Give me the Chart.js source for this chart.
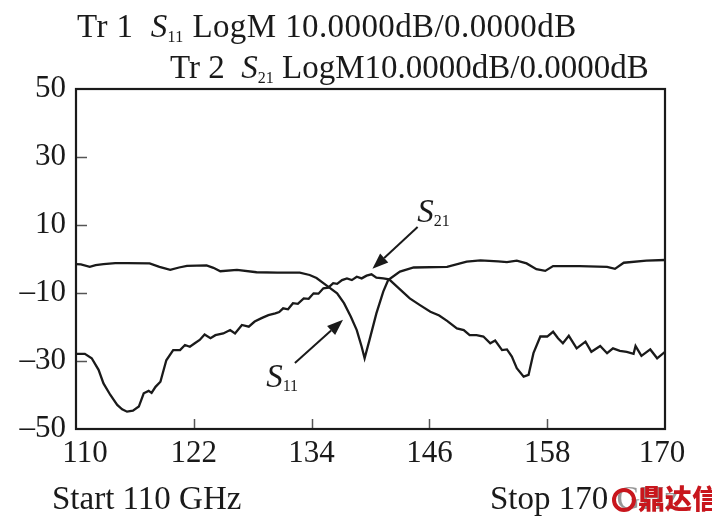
<!DOCTYPE html>
<html><head><meta charset="utf-8">
<script src="https://cdn.jsdelivr.net/npm/chart.js@4.4.1/dist/chart.umd.min.js"></script>
<style>
html,body{margin:0;padding:0;background:#fff;}
#wrap{position:relative;width:712px;height:524px;overflow:hidden;font-family:'Liberation Serif','Times New Roman',serif;color:#1a1a1a;}
canvas{position:absolute;left:0;top:0;}
.t{position:absolute;white-space:nowrap;font-size:33px;line-height:1;}
.t i{font-style:italic;}
.t sub{font-size:16px;vertical-align:baseline;position:relative;top:5px;}
#wm{position:absolute;left:612px;top:484px;white-space:nowrap;color:#c8161d;font-family:'Noto Sans CJK SC',sans-serif;font-weight:900;font-size:27px;line-height:1;background:rgba(255,255,255,0.55);}
#wm .ic{display:inline-block;width:24px;height:24px;border-radius:50%;border:4px solid #c8161d;box-sizing:border-box;vertical-align:-3px;margin-right:2px;}
</style></head>
<body><div id="wrap">
<canvas id="c" width="712" height="524"></canvas>
<div class="t" style="left:77px;top:10px;letter-spacing:0.4px;">Tr 1&nbsp;&nbsp;<i>S</i><sub>11</sub> LogM 10.0000dB/0.0000dB</div>
<div class="t" style="left:170px;top:51px;">Tr 2&nbsp;&nbsp;<i>S</i><sub>21</sub> LogM10.0000dB/0.0000dB</div>
<div class="t" style="left:52px;top:482px;">Start 110 GHz</div>
<div class="t" style="left:490px;top:482px;">Stop 170 GHz</div>
<div id="wm"><span class="ic"></span>鼎达信</div>
</div>
<script>
// ---- data ----
const xTicks = [110, 122, 134, 146, 158, 170];
const yTicks = [50, 30, 10, -10, -30, -50];

const s11Freq = [110.0,110.5,111.4,112.0,112.8,114.0,115.2,117.5,118.5,119.6,120.5,121.3,123.3,124.0,124.7,126.4,128.4,130.5,132.8,133.8,134.5,135.2,136.6,137.3,138.0,138.6,139.1,139.4,139.9,140.6,141.3,141.8,143.0,144.4,147.8,149.8,151.2,153.0,153.9,154.9,155.9,156.9,157.8,158.6,161.3,164.1,164.9,165.8,168.1,170.0];
const s11Val  = [-1.5,-1.6,-2.3,-1.8,-1.5,-1.2,-1.2,-1.3,-2.3,-3.2,-2.5,-2.0,-1.9,-2.6,-3.6,-3.2,-3.9,-4.0,-4.0,-4.7,-5.6,-7.1,-10.1,-13.0,-17.0,-20.9,-25.8,-29.2,-23.8,-16.0,-9.6,-6.2,-3.7,-2.5,-2.3,-0.8,-0.4,-0.7,-0.9,-0.5,-1.3,-3.0,-3.5,-2.1,-2.1,-2.3,-2.9,-1.1,-0.5,-0.3];

const s21Freq = [110.0,110.9,111.6,112.3,112.8,113.5,114.2,114.7,115.2,115.8,116.4,116.9,117.4,117.7,118.1,118.6,119.2,119.9,120.6,121.1,121.6,122.1,122.6,123.1,123.7,124.2,125.0,125.7,126.2,126.9,127.6,128.2,128.9,129.6,130.3,130.7,131.1,131.6,132.1,132.6,133.2,133.7,134.2,134.7,135.2,135.7,136.2,136.6,137.1,137.6,138.1,138.6,139.1,139.6,140.1,140.6,141.3,141.9,142.7,144.0,145.0,146.1,147.0,147.8,148.8,149.5,150.1,150.8,151.5,152.2,152.7,153.4,153.9,154.4,154.9,155.6,156.1,156.6,157.3,158.0,158.6,159.1,159.6,160.2,161.0,161.9,162.5,163.4,164.1,164.7,165.4,166.1,166.8,167.0,167.6,168.5,169.2,170.0];
const s21Val  = [-27.9,-27.9,-29.2,-32.6,-36.6,-40.0,-42.9,-44.2,-44.9,-44.6,-43.4,-39.5,-38.8,-39.4,-37.6,-36.1,-29.8,-26.8,-26.8,-25.3,-25.8,-24.8,-23.8,-22.2,-23.3,-22.4,-21.9,-20.9,-21.9,-19.4,-19.9,-18.4,-17.4,-16.5,-16.0,-15.6,-14.5,-14.8,-13.0,-13.2,-11.6,-11.7,-10.1,-10.2,-8.6,-8.4,-7.1,-7.3,-6.2,-5.7,-6.2,-5.2,-5.7,-4.9,-4.5,-5.5,-5.7,-6.0,-8.1,-11.6,-13.5,-15.5,-16.6,-18.2,-20.4,-20.9,-22.4,-22.4,-22.8,-24.8,-24.0,-26.8,-26.6,-28.7,-32.1,-34.6,-34.1,-27.7,-22.8,-22.8,-21.4,-23.3,-24.8,-22.6,-26.3,-24.3,-27.3,-25.6,-27.7,-26.3,-27.0,-27.3,-27.9,-25.6,-28.5,-26.6,-29.2,-27.3];

// annotation labels: [labelFreq, labelDb, tailFreq, tailDb, tipFreq, tipDb, subscript]
const annS21 = [146.5, 14.0, 144.8, 9.4, 140.2, -2.9, '21'];
const annS11 = [131.1, -34.3, 132.3, -30.6, 137.2, -17.9, '11'];

const FONT = "'Liberation Serif','Times New Roman',serif";
const INK = '#1a1a1a';

function pts(xs, ys){ return xs.map((x,i)=>({x:x, y:ys[i]})); }

const decor = {
  id:'decor',
  afterDatasetsDraw(chart){
    const ctx = chart.ctx, a = chart.chartArea, xs = chart.scales.x, ys = chart.scales.y;
    ctx.save();
    // inward ticks
    ctx.strokeStyle = '#555'; ctx.lineWidth = 1.5;
    yTicks.forEach(v=>{ if(v===50||v===-50) return; const py = Math.round(ys.getPixelForValue(v))+0.5;
      ctx.beginPath(); ctx.moveTo(a.left, py); ctx.lineTo(a.left+11, py); ctx.stroke(); });
    xTicks.forEach(v=>{ if(v===110||v===170) return; const px = Math.round(xs.getPixelForValue(v))+0.5;
      ctx.beginPath(); ctx.moveTo(px, a.bottom); ctx.lineTo(px, a.bottom-10); ctx.stroke(); });
    // frame
    ctx.strokeStyle = INK; ctx.lineWidth = 2.2;
    ctx.strokeRect(a.left, a.top, a.right-a.left, a.bottom-a.top);
    // x tick labels
    ctx.fillStyle = INK; ctx.font = '31px ' + FONT; ctx.textAlign='center'; ctx.textBaseline='alphabetic';
    xTicks.forEach((v,i)=>{ let px = xs.getPixelForValue(v);
      if(i===0) px += 9; if(i===xTicks.length-1) px -= 3;
      ctx.fillText(String(v), px, a.bottom + 33); });
    // annotations
    [annS21, annS11].forEach(an=>{
      const lx = xs.getPixelForValue(an[0]), ly = ys.getPixelForValue(an[1]);
      const tx = xs.getPixelForValue(an[2]), ty = ys.getPixelForValue(an[3]);
      const hx = xs.getPixelForValue(an[4]), hy = ys.getPixelForValue(an[5]);
      const ang = Math.atan2(hy-ty, hx-tx), L = 16, W = 6;
      const bx = hx - L*Math.cos(ang), by = hy - L*Math.sin(ang);
      ctx.strokeStyle = INK; ctx.lineWidth = 2;
      ctx.beginPath(); ctx.moveTo(tx,ty); ctx.lineTo(bx,by); ctx.stroke();
      ctx.fillStyle = INK; ctx.beginPath(); ctx.moveTo(hx,hy);
      ctx.lineTo(bx + W*Math.sin(ang), by - W*Math.cos(ang));
      ctx.lineTo(bx - W*Math.sin(ang), by + W*Math.cos(ang)); ctx.closePath(); ctx.fill();
      ctx.textAlign='left'; ctx.textBaseline='alphabetic';
      ctx.font = 'italic 33px ' + FONT;
      const sw = ctx.measureText('S').width;
      ctx.fillText('S', lx-17, ly+11);
      ctx.font = '16px ' + FONT;
      ctx.fillText(an[6], lx-17+sw, ly+15);
    });
    ctx.restore();
  }
};

new Chart(document.getElementById('c'), {
  type:'line',
  data:{ datasets:[
    {label:'S11', data: pts(s11Freq, s11Val), borderColor:INK, borderWidth:2.3, pointRadius:0, tension:0, fill:false},
    {label:'S21', data: pts(s21Freq, s21Val), borderColor:INK, borderWidth:2.3, pointRadius:0, tension:0, fill:false}
  ]},
  options:{
    responsive:false, animation:false, devicePixelRatio:1,
    layout:{padding:{top:89, right:47, bottom:0, left:0}},
    plugins:{legend:{display:false}, tooltip:{enabled:false}, title:{display:false}},
    scales:{
      x:{type:'linear', min:110, max:170, border:{display:false},
         ticks:{display:false, stepSize:12},
         grid:{display:false},
         afterFit(s){ s.width = s.width; s.height = 95; }},
      y:{type:'linear', min:-50, max:50, border:{display:false},
         ticks:{stepSize:20, color:INK, padding:10, font:{family:FONT, size:31},
                callback:v=> v<0 ? '\u2013'+Math.abs(v) : String(v)},
         grid:{display:false, drawTicks:false},
         afterFit(s){ s.width = 76; }}
    }
  },
  plugins:[decor]
});
</script>
</body></html>
